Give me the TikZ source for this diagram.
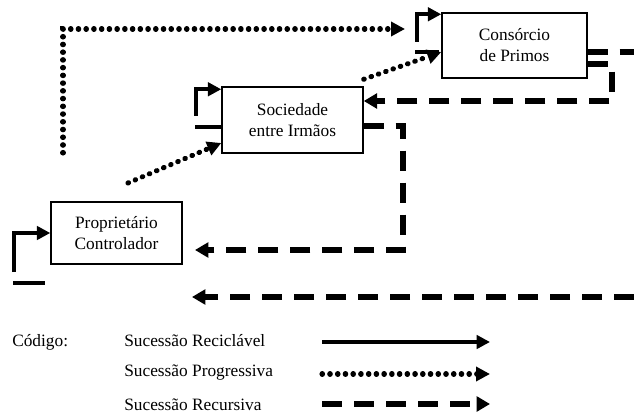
\documentclass[tikz,border=0pt]{standalone}
\usepackage{fontspec}
\setmainfont{Liberation Serif}
\usetikzlibrary{arrows.meta, positioning, calc}

\begin{document}
\begin{tikzpicture}[x=0.75pt, y=-0.75pt,
		caixa/.style={draw, line width=1.1pt, align=center, inner sep=2pt, font=\fontsize{13}{15.75}\selectfont},
		recic/.style={line width=3pt, -{Triangle[length=10pt, width=10pt]}},
		progr/.style={line width=3.8pt, line cap=round, dash pattern=on 0.4pt off 5.4pt, -{Triangle[length=10.5pt, width=10.5pt]}},
		recur/.style={line width=4.5pt, dash pattern=on 15pt off 9pt, -{Triangle[length=10pt, width=11pt]}},
		legenda/.style={anchor=west, inner sep=0pt, font=\fontsize{13}{15.75}\selectfont}]
		\useasboundingbox (0,0) rectangle (634,413);
		\draw (116.5,233) node[caixa, minimum width=98.25pt, minimum height=46.5pt] (prop) {Proprietário\\Controlador}
		(292.5,120) node[caixa, minimum width=105.75pt, minimum height=49.5pt] (soc) {Sociedade\\entre Irmãos}
		(514.5,45.5) node[caixa, minimum width=108.75pt, minimum height=48.75pt] (cons) {Consórcio\\de Primos};
		
		\coordinate (pc1) at (14,272);
		\coordinate (pc2) at (13,283);
		\coordinate (pc3) at (45,283);
		\coordinate (pc4) at (128,183);
		\coordinate (sc1) at (196,116);
		\coordinate (sc2) at (195,127);
		\coordinate (cc1) at (417,42);
		\coordinate (cc2) at (415,52);
		\coordinate (tc1) at (63,153);
		\coordinate (tc2) at (405,29);
		\coordinate (rc1) at (634,52);
		\coordinate (rc2) at (612,101);
		\coordinate (rc3) at (403,250);
		\coordinate (rc4) at (195,250);
		\coordinate (rc5) at (634,297);
		\coordinate (rc6) at (192,297);
		
		% reciclavel
		\draw[recic] (pc1) |- (prop.west);
		\draw[recic, -] (pc2) -- (pc3);
		\draw[recic] (sc1) |- ($(soc.north west)+(0,3)$);
		\draw[recic, -] (sc2) -- ($(soc.west)+(0,7)$);
		\draw[recic] (cc1) |- ($(cons.north west)+(0,2)$);
		\draw[recic, -] (cc2) -- ($(cons.west)+(-2,6.5)$);
		
		% progressiva
		\draw[progr] (pc4) -- ($(soc.west)+(0,23)$);
		\draw[progr] (tc1) |- (tc2);
		\draw[progr] ($(soc.north east)+(0,-7)$) -- ($(cons.west)+(0,6.5)$);
		
		% recursiva
		\draw[recur, -] ($(cons.east)+(0,6.5)$) -- (rc1);
		\draw[recur] ($(cons.east)+(0,18.5)$) -| (rc2) -- ($(soc.east)+(0,-19)$);
		\draw[recur] ($(soc.east)+(0,6)$) -| (rc3) -- (rc4);
		\draw[recur] (rc5) -- (rc6);
		
		% codigo
		\draw (12,342) node[legenda] (cod) {Código:}
		(124,341) node[legenda] (l1) {Sucessão Reciclável}
		(124,373) node[legenda] (l2) {Sucessão Progressiva}
		(124,405) node[legenda] (l3) {Sucessão Recursiva};
		\coordinate (a1) at (322,342);
		\coordinate (a2) at (490,342);
		\coordinate (a3) at (322,374);
		\coordinate (a4) at (490,374);
		\coordinate (a5) at (322,404);
		\coordinate (a6) at (490,404);
		\draw[recic] (a1) -- (a2);
		\draw[progr] (a3) -- (a4);
		\draw[recur] (a5) -- (a6);
	\end{tikzpicture}
\end{document}
